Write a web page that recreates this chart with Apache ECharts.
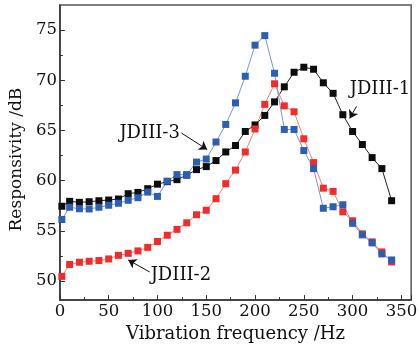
<!DOCTYPE html>
<html>
<head>
<meta charset="utf-8">
<script src="https://cdn.jsdelivr.net/npm/echarts@6/dist/echarts.min.js"></script>
<style>
  html, body { margin: 0; padding: 0; background: #fff; }
  #chart { width: 420px; height: 348px; }
</style>
</head>
<body>
<div id="chart"></div>
<script>
// vibration frequency (Hz)
var freq = [2, 10, 20, 30, 40, 50, 60, 70, 80, 90, 100, 110, 120, 130, 140, 150, 160, 170,
  180, 190, 200, 210, 220, 230, 240, 250, 260, 270, 280, 290, 300, 310, 320, 330, 340];

// responsivity (dB)
var jd1 = [57.45, 57.94, 57.84, 57.9, 58.0, 58.07, 58.17, 58.7, 58.83, 59.2, 59.65, 59.9, 60.1,
  60.55, 61.1, 61.4, 62.0, 62.86, 63.5, 64.9, 65.55, 66.5, 67.85, 69.35, 70.8, 71.3, 71.1,
  69.75, 68.7, 66.57, 64.9, 63.6, 62.3, 61.2, 58.0];
var jd2 = [50.46, 51.65, 51.87, 51.97, 52.04, 52.2, 52.56, 52.76, 53.0, 53.35, 53.94, 54.56, 55.15,
  55.8, 56.6, 57.05, 58.2, 59.7, 61.05, 62.86, 65.15, 67.6, 69.65, 67.45, 66.86, 64.17, 61.8,
  59.25, 58.93, 56.9, 56.0, 54.7, 53.9, 52.9, 51.9];
var jd3 = [56.13, 57.35, 57.2, 57.18, 57.35, 57.55, 57.75, 58.04, 58.3, 58.86, 58.43, 59.95, 60.6,
  60.6, 61.85, 62.15, 63.85, 65.6, 67.75, 70.4, 73.5, 74.45, 70.7, 65.1, 65.1, 63.0, 61.2,
  57.25, 57.4, 57.6, 55.75, 54.6, 53.8, 52.7, 52.1];

var yTicks = [50, 55, 60, 65, 70, 75];
var yMinorTicks = [52.5, 57.5, 62.5, 67.5, 72.5];

var font = 'DejaVu Serif';

function pairs(vals) {
  return freq.map(function (f, i) { return [f, vals[i]]; });
}

function arrow(from, to) {
  return {
    silent: true,
    symbol: ['none', 'arrow'],
    symbolSize: 8,
    label: { show: false },
    lineStyle: { color: '#111', width: 1, type: 'solid' },
    itemStyle: { color: '#111' },
    data: [[{ coord: from }, { coord: to }]]
  };
}

var chart = echarts.init(document.getElementById('chart'));

var option = {
  animation: false,
  backgroundColor: '#fff',
  grid: {
    left: 55, right: 6, top: 5, bottom: 45,
    show: true, borderColor: '#555', borderWidth: 1.5
  },
  xAxis: {
    type: 'value',
    min: 0, max: 360, interval: 50,
    name: 'Vibration frequency /Hz',
    nameLocation: 'middle',
    nameGap: 19,
    nameTextStyle: { fontFamily: font, fontSize: 18, color: '#111' },
    axisLine: { lineStyle: { color: '#333', width: 1.5 } },
    axisTick: { inside: true, length: 5, lineStyle: { color: '#333' } },
    minorTick: { show: true, splitNumber: 2, length: 3, lineStyle: { color: '#333' } },
    axisLabel: { fontFamily: font, fontSize: 16.5, color: '#111', margin: 3, showMaxLabel: false },
    splitLine: { show: false }
  },
  yAxis: [{
    type: 'value',
    min: 48.1, max: 77.5,
    name: 'Responsivity /dB',
    nameLocation: 'middle',
    nameGap: 31,
    nameTextStyle: { fontFamily: font, fontSize: 17, color: '#111', padding: [0, 14, 0, 0] },
    axisLine: { show: true, lineStyle: { color: '#333', width: 1.5 } },
    axisTick: { inside: true, length: 5, customValues: yTicks, lineStyle: { color: '#333' } },
    axisLabel: { fontFamily: font, fontSize: 16.5, color: '#111', margin: 3, customValues: yTicks },
    splitLine: { show: false }
  }, {
    type: 'value',
    min: 48.1, max: 77.5,
    position: 'left',
    axisLine: { show: false },
    axisTick: { show: true, inside: true, length: 3, customValues: yMinorTicks, lineStyle: { color: '#333' } },
    axisLabel: { show: false },
    splitLine: { show: false }
  }],
  series: [{
    name: 'JDIII-1',
    type: 'line',
    data: pairs(jd1),
    symbol: 'rect',
    symbolSize: 7,
    itemStyle: { color: '#0d0d0d' },
    lineStyle: { color: '#222', width: 1 },
    markLine: arrow([304, 67.4], [297, 66.2])
  }, {
    name: 'JDIII-2',
    type: 'line',
    data: pairs(jd2),
    symbol: 'rect',
    symbolSize: 7,
    itemStyle: { color: '#f02c2c' },
    lineStyle: { color: '#f4826e', width: 1 },
    markLine: arrow([92, 50.9], [70, 52.1])
  }, {
    name: 'JDIII-3',
    type: 'line',
    data: pairs(jd3),
    symbol: 'rect',
    symbolSize: 7,
    itemStyle: { color: '#2b5fb5' },
    lineStyle: { color: '#7896d6', width: 1 },
    markLine: arrow([124.5, 64.75], [151, 63.1])
  }]
};

chart.setOption(option);

// curve labels anchored in data space
var notes = [
  { text: 'JDIII-1', at: [297, 69.1], align: 'left' },
  { text: 'JDIII-2', at: [93, 50.6], align: 'left' },
  { text: 'JDIII-3', at: [123, 64.7], align: 'right' }
];
chart.setOption({
  graphic: notes.map(function (n) {
    var p = chart.convertToPixel({ gridIndex: 0 }, n.at);
    return {
      type: 'text',
      x: p[0], y: p[1],
      style: {
        text: n.text, fill: '#111', font: '18px "' + font + '"',
        align: n.align, verticalAlign: 'middle'
      }
    };
  })
});
</script>
</body>
</html>
